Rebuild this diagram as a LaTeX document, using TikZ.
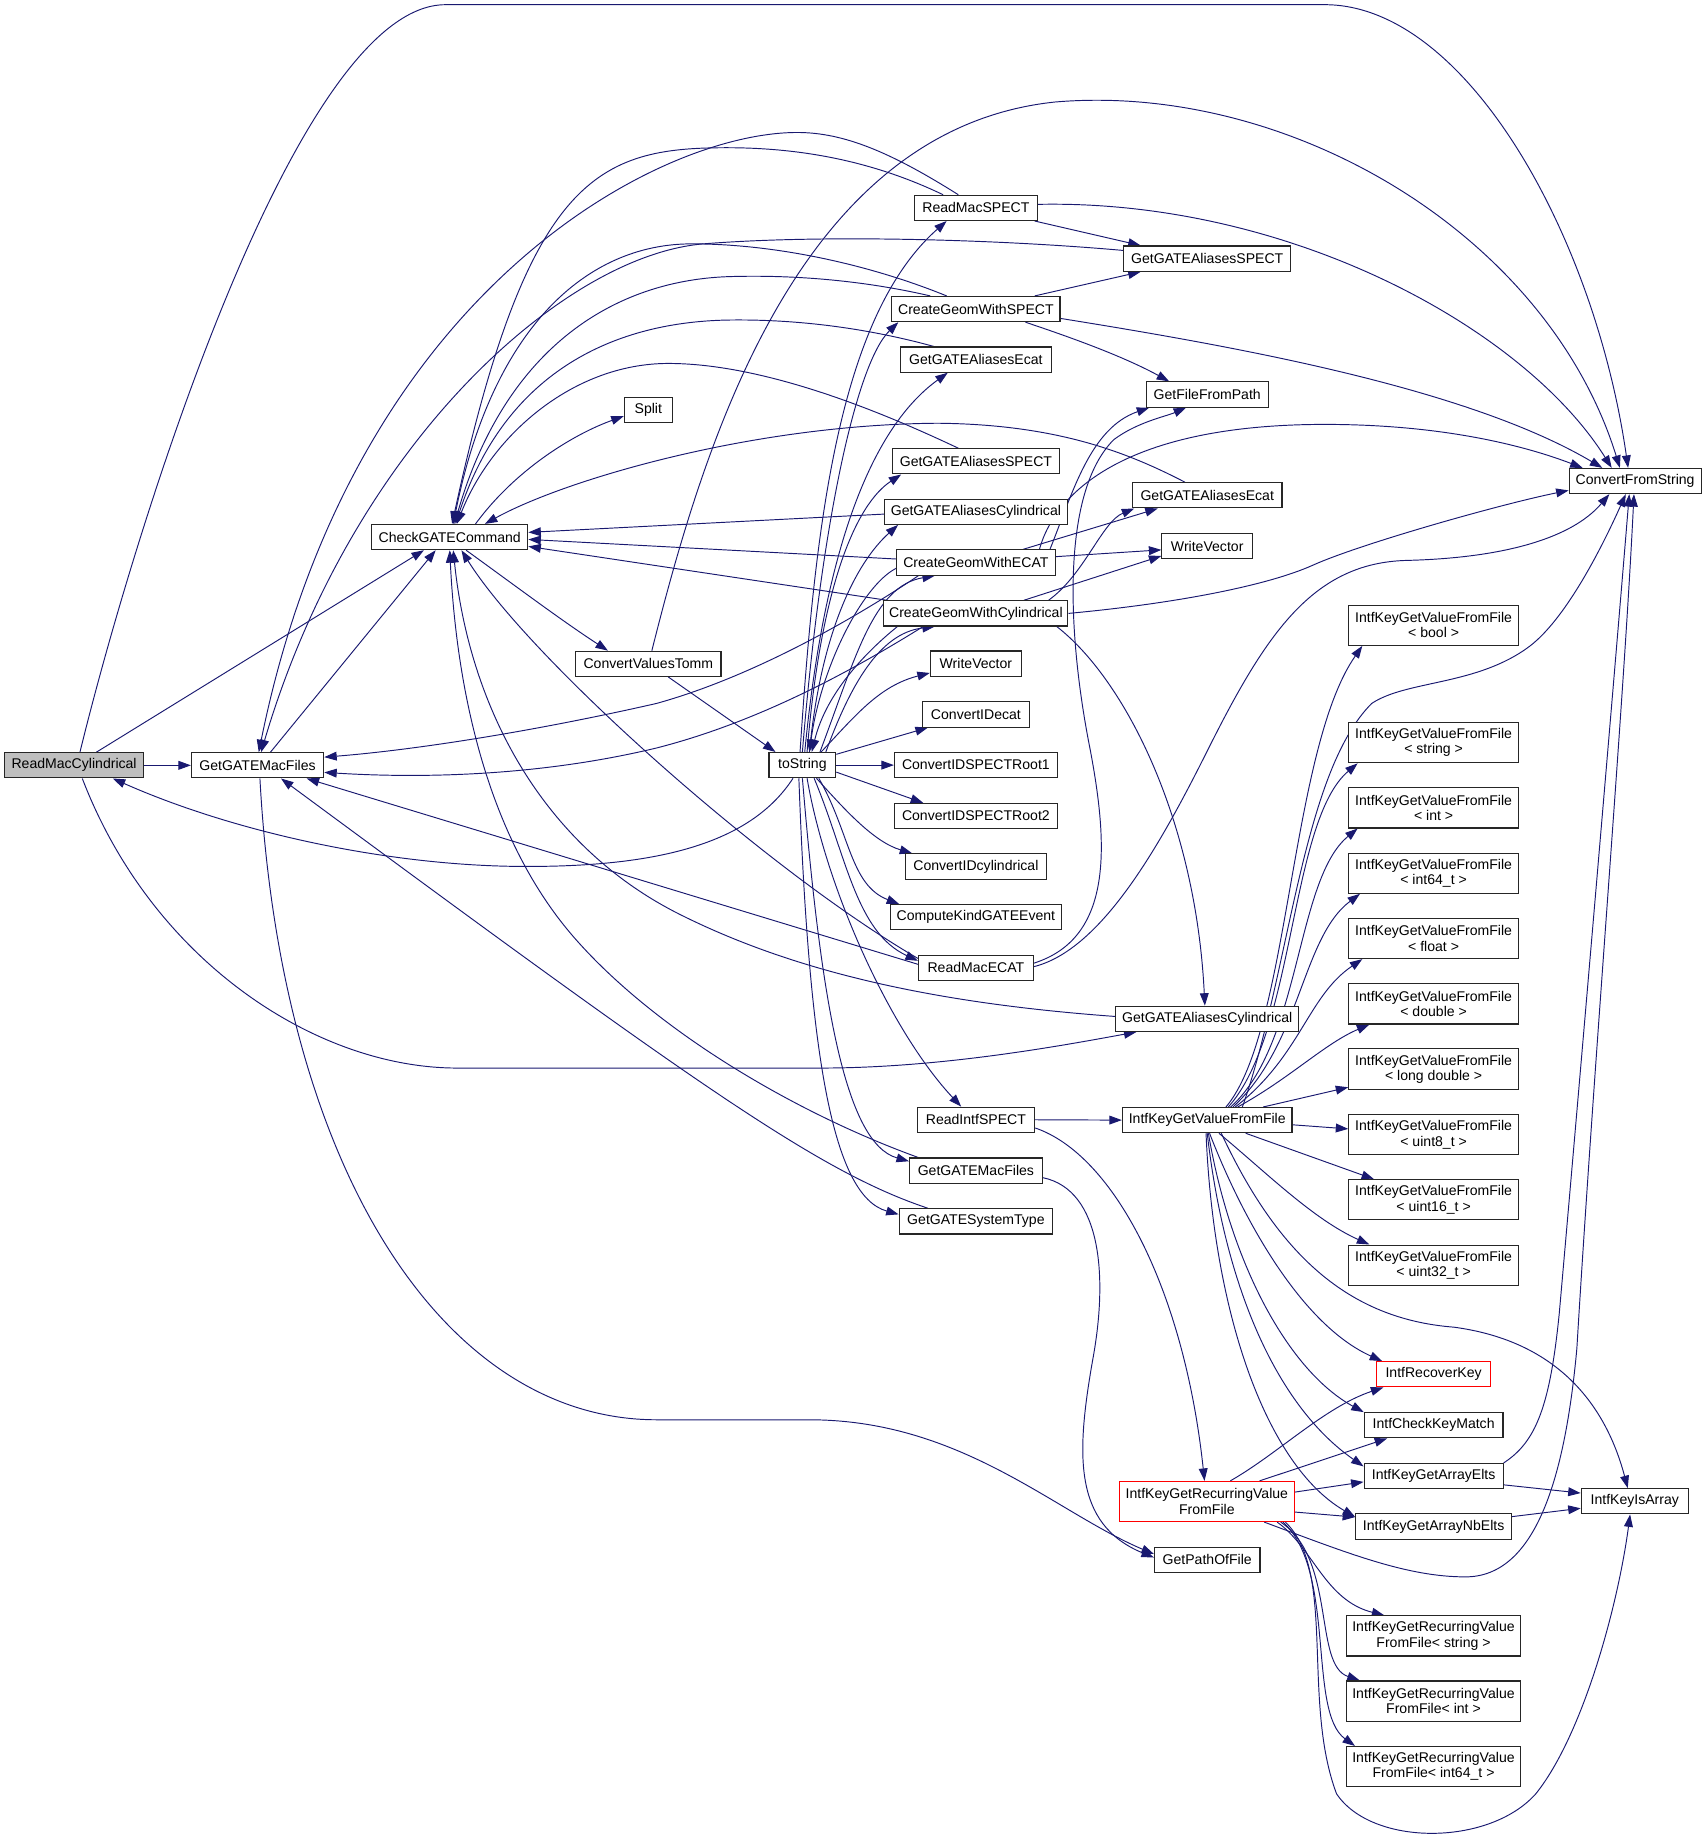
\documentclass[tikz,border=0pt]{standalone}
\usepackage{fontspec}
\setmainfont{Liberation Sans}
\usetikzlibrary{arrows.meta,calc}
\pgfdeclarelayer{edgelayer}
\pgfsetlayers{edgelayer,main}
\definecolor{edgecol}{RGB}{25,25,112}
\begin{document}
\begin{tikzpicture}[x=0.8pt,y=-0.8pt,
  box/.style={draw=black!85, line width=0.75pt, fill=white, rectangle, inner xsep=1pt, inner ysep=0pt,
    minimum height=17.2pt, font=\fontsize{9.6}{10.4}\selectfont, text=black, align=center},
  box2/.style={box, minimum height=27.4pt},
  bw/.style={minimum width=#1*0.8pt},
  redbox/.style={draw=red},
  edge/.style={draw=edgecol, line width=0.65pt, -{Triangle[length=8.5pt,width=6pt]}}]
\useasboundingbox (0,0) rectangle (1456,1570.3);

% ---------- nodes ----------
\node[box,bw=118.7,fill=black!25] (rmc) at (63.2,652.8) {ReadMacCylindrical};
\node[box,bw=112.8] (gmf1) at (219.7,652.8) {GetGATEMacFiles};
\node[box,bw=133.2] (cgc) at (383.6,458.1) {CheckGATECommand};
\node[box,bw=41.1] (split) at (553,350) {Split};
\node[box,bw=124] (cvt) at (553,566.2) {ConvertValuesTomm};
\node[box,bw=57] (tostr) at (684.4,652.6) {toString};

\node[box,bw=105.3] (rms) at (832.4,177.3) {ReadMacSPECT};
\node[box,bw=143.5] (cgws) at (832.4,263.6) {CreateGeomWithSPECT};
\node[box,bw=128.3] (gae1) at (832.4,306.7) {GetGATEAliasesEcat};
\node[box,bw=142.5] (gas1) at (832.4,393.5) {GetGATEAliasesSPECT};
\node[box,bw=155.8] (gac1) at (832.4,436.5) {GetGATEAliasesCylindrical};
\node[box,bw=135.4] (cgwe) at (832.4,479.8) {CreateGeomWithECAT};
\node[box,bw=157] (cgwc) at (832.4,523.2) {CreateGeomWithCylindrical};
\node[box,bw=77.7] (wv2) at (832.4,566) {WriteVector};
\node[box,bw=91] (cide) at (832.4,609.4) {ConvertIDecat};
\node[box,bw=139] (cids1) at (832.4,652.6) {ConvertIDSPECTRoot1};
\node[box,bw=139] (cids2) at (832.4,696) {ConvertIDSPECTRoot2};
\node[box,bw=119.7] (cidc) at (832.4,739.1) {ConvertIDcylindrical};
\node[box,bw=146] (ckge) at (832.4,782.3) {ComputeKindGATEEvent};
\node[box,bw=98] (rme) at (832.4,825.5) {ReadMacECAT};
\node[box,bw=100.2] (ris) at (832.4,955.1) {ReadIntfSPECT};
\node[box,bw=113.3] (gmf2) at (832.4,998.5) {GetGATEMacFiles};
\node[box,bw=130.9] (gst) at (832.4,1041.8) {GetGATESystemType};

\node[box,bw=142.6] (gas2) at (1029.7,220.6) {GetGATEAliasesSPECT};
\node[box,bw=104] (gffp) at (1029.7,336.5) {GetFileFromPath};
\node[box,bw=127.5] (gae2) at (1029.7,422.5) {GetGATEAliasesEcat};
\node[box,bw=77.3] (wv1) at (1029.7,466) {WriteVector};
\node[box,bw=155.8] (gaac2) at (1029.7,869) {GetGATEAliasesCylindrical};
\node[box,bw=144.7] (ikgv) at (1029.7,955.4) {IntfKeyGetValueFromFile};
\node[box2,bw=149,redbox] (ikgrv) at (1029.4,1280.7) {IntfKeyGetRecurringValue\\FromFile};
\node[box,bw=90] (gpof) at (1029.7,1330.5) {GetPathOfFile};

\node[box2,bw=144.7] (tbool) at (1222.8,533.3) {IntfKeyGetValueFromFile\\< bool >};
\node[box2,bw=144.7] (tstring) at (1222.8,633.5) {IntfKeyGetValueFromFile\\< string >};
\node[box2,bw=144.7] (tint) at (1222.8,689.1) {IntfKeyGetValueFromFile\\< int >};
\node[box2,bw=144.7] (tint64) at (1222.8,744.8) {IntfKeyGetValueFromFile\\< int64\_t >};
\node[box2,bw=144.7] (tfloat) at (1222.8,800.5) {IntfKeyGetValueFromFile\\< float >};
\node[box2,bw=144.7] (tdouble) at (1222.8,856.3) {IntfKeyGetValueFromFile\\< double >};
\node[box2,bw=144.7] (tldouble) at (1222.8,911.8) {IntfKeyGetValueFromFile\\< long double >};
\node[box2,bw=144.7] (tuint8) at (1222.8,967.9) {IntfKeyGetValueFromFile\\< uint8\_t >};
\node[box2,bw=144.7] (tuint16) at (1222.8,1023.4) {IntfKeyGetValueFromFile\\< uint16\_t >};
\node[box2,bw=144.7] (tuint32) at (1222.8,1079.1) {IntfKeyGetValueFromFile\\< uint32\_t >};
\node[box,bw=96.8,redbox] (irk) at (1222.8,1172.2) {IntfRecoverKey};
\node[box,bw=118.3] (ickm) at (1222.8,1215.7) {IntfCheckKeyMatch};
\node[box,bw=118.6] (ikgae) at (1222.8,1259) {IntfKeyGetArrayElts};
\node[box,bw=133] (ikgane) at (1222.8,1302) {IntfKeyGetArrayNbElts};
\node[box2,bw=149] (rstring) at (1222.7,1395.4) {IntfKeyGetRecurringValue\\FromFile< string >};
\node[box2,bw=149] (rint) at (1222.7,1450.9) {IntfKeyGetRecurringValue\\FromFile< int >};
\node[box2,bw=149] (rint64) at (1222.7,1506.8) {IntfKeyGetRecurringValue\\FromFile< int64\_t >};

\node[box,bw=112.6] (cfs) at (1394.7,410.3) {ConvertFromString};
\node[box,bw=91.4] (ikia) at (1394.4,1280.5) {IntfKeyIsArray};

% ---------- edges ----------
\begin{pgfonlayer}{edgelayer}
% ReadMacCylindrical
\draw[edge] ($(rmc.north)+(5,0)$) .. controls (110,470) and (250,4) .. (380,4) -- (1130,4) .. controls (1250,4) and (1360,200) .. ($(cfs.north)+(-6,0)$);
\draw[edge] ($(rmc.north)+(19,0)$) -- ($(cgc.south)+(-22,0)$);
\draw[edge] (rmc.east) -- (gmf1.west);
\draw[edge] ($(rmc.south)+(7,0)$) .. controls (130,820) and (270,911) .. (390,911) -- (700,911) .. controls (800,911) and (900,893) .. ($(gaac2.south west)+(18,0)$);
\draw[edge] ($(tostr.south)+(-8,0)$) .. controls (640,720) and (560,740) .. (442,739) .. controls (330,738) and (200,710) .. ($(rmc.south)+(33,0)$);
% GetGATEMacFiles (left)
\draw[edge] ($(gmf1.north)+(11,0)$) -- ($(cgc.south)+(-12,0)$);
\draw[edge] ($(gmf1.south)+(2,0)$) .. controls (240,1000) and (380,1211) .. (560,1211) -- (690,1211) .. controls (820,1211) and (900,1290) .. ($(gpof.west)+(0,-5)$);
\draw[edge] ($(rms.north)+(-15,0)$) .. controls (760,130) and (720,113) .. (680,113) .. controls (560,113) and (300,250) .. ($(gmf1.north)+(1,0)$);
\draw[edge] ($(gas2.west)+(0,-7)$) .. controls (850,204) and (700,200) .. (600,208) .. controls (480,218) and (300,380) .. ($(gmf1.north)+(3,0)$);
% into CheckGATECommand (top)
\draw[edge] ($(rms.north)+(-28,0)$) .. controls (750,140) and (690,126) .. (620,126) .. controls (510,126) and (450,150) .. ($(cgc.north)+(2,0)$);
\draw[edge] ($(cgws.north)+(-25,0)$) .. controls (740,225) and (660,208) .. (590,208) .. controls (500,208) and (420,280) .. ($(cgc.north)+(3,0)$);
\draw[edge] ($(cgws.north)+(-39,0)$) .. controls (740,240) and (680,234) .. (620,236) .. controls (520,240) and (430,300) .. ($(cgc.north)+(4,0)$);
\draw[edge] ($(gae1.north)+(-36,0)$) .. controls (740,280) and (680,272) .. (620,273) .. controls (520,275) and (430,320) .. ($(cgc.north)+(5,0)$);
\draw[edge] ($(gas1.north)+(-15,0)$) .. controls (770,360) and (660,310) .. (570,310) .. controls (490,310) and (420,370) .. ($(cgc.north)+(6,0)$);
\draw[edge] ($(gae2.north)+(-19,0)$) .. controls (960,385) and (900,362) .. (800,361) .. controls (640,362) and (480,410) .. ($(cgc.north)+(30,0)$);
% into CheckGATECommand (right)
\draw[edge] ($(gac1.west)+(0,2)$) -- ($(cgc.east)+(0,-4)$);
\draw[edge] ($(cgwe.west)+(0,-3)$) -- ($(cgc.east)+(0,2)$);
\draw[edge] ($(cgwc.north west)+(3,0)$) -- ($(cgc.east)+(0,8)$);
% into CheckGATECommand (bottom)
\draw[edge] ($(rme.west)+(0,-8)$) .. controls (650,740) and (450,560) .. ($(cgc.south)+(10,0)$);
\draw[edge] ($(gmf2.north west)+(8,0)$) .. controls (680,950) and (560,880) .. (490,800) .. controls (420,720) and (390,600) .. (cgc.south);
\draw[edge] ($(gaac2.west)+(0,-2)$) .. controls (800,856) and (680,830) .. (580,780) .. controls (460,720) and (400,600) .. ($(cgc.south)+(3,0)$);
% CheckGATECommand out
\draw[edge] ($(cgc.north)+(22,0)$) .. controls (440,400) and (490,370) .. ($(split.west)+(0,5)$);
\draw[edge] ($(cgc.south)+(14,0)$) .. controls (440,500) and (480,530) .. ($(cvt.north west)+(28,0)$);
% ConvertValuesTomm
\draw[edge] ($(cvt.south)+(17,0)$) -- ($(tostr.north west)+(6,0)$);
\draw[edge] ($(cvt.north)+(3,0)$) .. controls (600,380) and (680,110) .. (900,87) .. controls (1100,70) and (1320,200) .. ($(cfs.north)+(-13,0)$);
% toString out
\draw[edge] ($(tostr.north)+(-2,0)$) .. controls (695,450) and (715,270) .. ($(rms.south)+(-25,0)$);
\draw[edge] (tostr.north) .. controls (700,450) and (730,310) .. ($(cgws.south west)+(6,0)$);
\draw[edge] ($(tostr.north)+(2,0)$) .. controls (705,450) and (750,360) .. ($(gae1.south)+(-24,0)$);
\draw[edge] ($(tostr.north)+(4,0)$) .. controls (700,500) and (730,430) .. ($(gas1.south west)+(8,0)$);
\draw[edge] ($(tostr.north)+(6,0)$) .. controls (700,540) and (730,480) .. ($(gac1.south west)+(12,0)$);
\draw[edge] ($(tostr.north)+(15,0)$) .. controls (730,560) and (745,500) .. ($(cgwe.south)+(-35,0)$);
\draw[edge] ($(tostr.north)+(20,0)$) .. controls (725,585) and (750,540) .. ($(cgwc.south)+(-35,0)$);
\draw[edge] ($(tostr.north)+(16,0)$) .. controls (730,610) and (750,585) .. ($(wv2.west)+(0,8)$);
\draw[edge] ($(tostr.north east)+(0,2)$) -- ($(cide.south west)+(5,0)$);
\draw[edge] (tostr.east) -- (cids1.west);
\draw[edge] ($(tostr.east)+(0,6)$) -- ($(cids2.north west)+(25,0)$);
\draw[edge] ($(tostr.south)+(12,0)$) .. controls (720,690) and (745,718) .. ($(cidc.north west)+(6,0)$);
\draw[edge] ($(tostr.south)+(14,0)$) .. controls (725,710) and (725,755) .. ($(ckge.north west)+(8,0)$);
\draw[edge] ($(tostr.south)+(10,0)$) .. controls (722,730) and (730,795) .. ($(rme.west)+(0,-6)$);
\draw[edge] ($(tostr.south)+(4,0)$) .. controls (705,760) and (760,880) .. ($(ris.north west)+(38,0)$);
\draw[edge] (tostr.south) .. controls (700,850) and (720,975) .. ($(gmf2.west)+(0,-8)$);
\draw[edge] ($(tostr.south)+(-3,0)$) .. controls (690,900) and (710,1020) .. ($(gst.west)+(0,-6)$);
% back to toString and to GetGATEMacFiles
\draw[edge] ($(cgwe.west)+(0,5)$) .. controls (735,500) and (700,570) .. ($(tostr.north)+(6,0)$);
\draw[edge] ($(cgwc.south west)+(12,0)$) .. controls (740,555) and (705,590) .. ($(tostr.north)+(8,0)$);
\draw[edge] ($(cgwe.south)+(-49,0)$) .. controls (740,520) and (650,575) .. (560,600) .. controls (450,625) and (350,640) .. ($(gmf1.east)+(0,-7)$);
\draw[edge] ($(cgwc.south)+(-45,0)$) .. controls (730,570) and (650,615) .. (560,638) .. controls (460,662) and (360,664) .. ($(gmf1.east)+(0,6)$);
% ReadMacECAT
\draw[edge] ($(rme.west)+(0,-3)$) -- ($(gmf1.south east)+(-15,0)$);
\draw[edge] ($(rme.east)+(0,-4)$) .. controls (950,800) and (945,720) .. (930,640) .. controls (910,540) and (905,420) .. (950,375) .. controls (970,360) and (995,355) .. ($(gffp.south)+(-18,0)$);
\draw[edge] ($(rme.east)+(0,-1)$) .. controls (940,810) and (990,720) .. (1030,640) .. controls (1080,540) and (1120,480) .. (1200,478) .. controls (1280,476) and (1340,460) .. ($(cfs.south)+(-22,0)$);
% ReadMacSPECT
\draw[edge] ($(rms.south east)+(-3,0)$) -- ($(gas2.north west)+(15,0)$);
\draw[edge] ($(rms.east)+(0,-3)$) .. controls (1100,170) and (1300,280) .. ($(cfs.north)+(-20,0)$);
% CreateGeomWithSPECT
\draw[edge] ($(cgws.north east)+(-22,0)$) -- ($(gas2.south west)+(15,0)$);
\draw[edge] ($(cgws.east)+(0,8)$) .. controls (1050,295) and (1250,330) .. ($(cfs.north)+(-28,0)$);
\draw[edge] ($(cgws.south east)+(-30,0)$) .. controls (920,290) and (960,305) .. ($(gffp.north west)+(20,0)$);
% CreateGeomWithECAT
\draw[edge] ($(cgwe.north east)+(-5,0)$) .. controls (915,420) and (930,365) .. ($(gffp.south west)+(3,0)$);
\draw[edge] ($(cgwe.north east)+(-28,0)$) -- ($(gae2.south west)+(22,0)$);
\draw[edge] ($(cgwe.east)+(0,-5)$) -- ($(wv1.west)+(0,3)$);
\draw[edge] ($(cgwe.north east)+(-14,0)$) .. controls (900,420) and (960,362) .. (1130,362) .. controls (1230,362) and (1300,380) .. ($(cfs.north west)+(12,0)$);
% CreateGeomWithCylindrical
\draw[edge] ($(cgwc.north east)+(-17,0)$) .. controls (925,490) and (940,445) .. ($(gae2.south west)+(2,0)$);
\draw[edge] ($(cgwc.north east)+(-38,0)$) -- ($(wv1.south west)+(0,-3)$);
\draw[edge] (cgwc.east) .. controls (1000,515) and (1080,500) .. (1120,482) .. controls (1160,464) and (1280,430) .. ($(cfs.west)+(0,8)$);
\draw[edge] ($(cgwc.south east)+(-10,0)$) .. controls (960,580) and (1020,700) .. ($(gaac2.north)+(-2,0)$);
% ReadIntfSPECT, GetGATEMacFiles, GetGATESystemType
\draw[edge] (ris.east) -- (ikgv.west);
\draw[edge] ($(ris.east)+(0,7)$) .. controls (950,985) and (1010,1100) .. ($(ikgrv.north)+(-2,0)$);
\draw[edge] ($(gmf2.east)+(0,6)$) .. controls (940,1015) and (945,1090) .. (932,1160) .. controls (918,1240) and (915,1300) .. ($(gpof.west)+(0,-2)$);
\draw[edge] ($(gst.north west)+(25,0)$) .. controls (700,1000) and (600,930) .. ($(gmf1.south)+(20,0)$);
% IntfKeyGetValueFromFile
\draw[edge] ($(ikgv.north)+(16,0)$) .. controls (1100,880) and (1100,640) .. ($(tbool.south west)+(12,0)$);
\draw[edge] ($(ikgv.north)+(18,0)$) .. controls (1105,880) and (1100,700) .. ($(tstring.south west)+(8,0)$);
\draw[edge] ($(ikgv.north)+(20,0)$) .. controls (1110,890) and (1105,750) .. ($(tint.south west)+(8,0)$);
\draw[edge] ($(ikgv.north)+(22,0)$) .. controls (1110,890) and (1110,800) .. ($(tint64.south west)+(10,0)$);
\draw[edge] ($(ikgv.north)+(24,0)$) .. controls (1110,900) and (1115,850) .. ($(tfloat.south west)+(12,0)$);
\draw[edge] ($(ikgv.north)+(26,0)$) .. controls (1100,920) and (1130,890) .. ($(tdouble.south west)+(18,0)$);
\draw[edge] ($(ikgv.north east)+(-25,0)$) -- ($(tldouble.south west)+(0,-2)$);
\draw[edge] ($(ikgv.east)+(0,4)$) -- ($(tuint8.west)+(0,-5)$);
\draw[edge] ($(ikgv.south east)+(-40,0)$) -- ($(tuint16.north west)+(22,0)$);
\draw[edge] ($(ikgv.south)+(10,0)$) .. controls (1080,1000) and (1120,1040) .. ($(tuint32.north west)+(18,0)$);
\draw[edge] ($(ikgv.north)+(30,0)$) .. controls (1100,830) and (1110,660) .. (1170,600) .. controls (1200,580) and (1260,585) .. (1305,551) .. controls (1335,528) and (1365,470) .. ($(cfs.south)+(-8,0)$);
\draw[edge] ($(ikgv.south)+(2,0)$) .. controls (1060,1040) and (1110,1130) .. ($(irk.north west)+(5,0)$);
\draw[edge] ($(ikgv.south)+(1,0)$) .. controls (1050,1080) and (1100,1170) .. (ickm.north west);
\draw[edge] (ikgv.south) .. controls (1045,1100) and (1090,1200) .. ($(ikgae.north west)+(0,3)$);
\draw[edge] ($(ikgv.south)+(-1,0)$) .. controls (1035,1120) and (1080,1250) .. ($(ikgane.north west)+(0,3)$);
\draw[edge] ($(ikgv.south)+(12,0)$) .. controls (1090,1070) and (1150,1125) .. (1240,1132) .. controls (1330,1144) and (1370,1200) .. ($(ikia.north)+(-6,0)$);
% IntfKeyGetRecurringValueFromFile
\draw[edge] ($(ikgrv.north)+(20,0)$) .. controls (1090,1240) and (1130,1200) .. ($(irk.south west)+(6,0)$);
\draw[edge] ($(ikgrv.north east)+(-30,0)$) -- ($(ickm.south west)+(20,0)$);
\draw[edge] ($(ikgrv.east)+(0,-8)$) -- ($(ikgae.west)+(0,5)$);
\draw[edge] ($(ikgrv.east)+(0,9)$) -- ($(ikgane.west)+(0,-8)$);
\draw[edge] ($(ikgrv.south east)+(-26,0)$) .. controls (1150,1325) and (1200,1345) .. (1250,1345) .. controls (1310,1345) and (1335,1260) .. (1345,1150) .. controls (1360,900) and (1385,600) .. ($(cfs.south)+(-1,0)$);
\draw[edge] ($(ikgrv.south east)+(-15,0)$) .. controls (1120,1320) and (1130,1365) .. ($(rstring.north west)+(33,0)$);
\draw[edge] ($(ikgrv.south east)+(-12,0)$) .. controls (1140,1330) and (1120,1420) .. ($(rint.north west)+(12,0)$);
\draw[edge] ($(ikgrv.south east)+(-10,0)$) .. controls (1140,1340) and (1115,1460) .. ($(rint64.north west)+(8,0)$);
\draw[edge] ($(ikgrv.south east)+(-8,0)$) .. controls (1140,1340) and (1110,1450) .. (1140,1530) .. controls (1170,1575) and (1270,1575) .. (1310,1530) .. controls (1350,1480) and (1380,1370) .. ($(ikia.south)+(-4,0)$);
% array helpers
\draw[edge] (ikgae.north east) .. controls (1310,1230) and (1322,1200) .. (1330,1120) .. controls (1345,950) and (1375,600) .. ($(cfs.south)+(-5,0)$);
\draw[edge] ($(ikgae.east)+(0,7.5)$) -- ($(ikia.west)+(0,-7)$);
\draw[edge] ($(ikgane.east)+(0,-8.4)$) -- ($(ikia.west)+(0,6)$);
\end{pgfonlayer}
\end{tikzpicture}
\end{document}
